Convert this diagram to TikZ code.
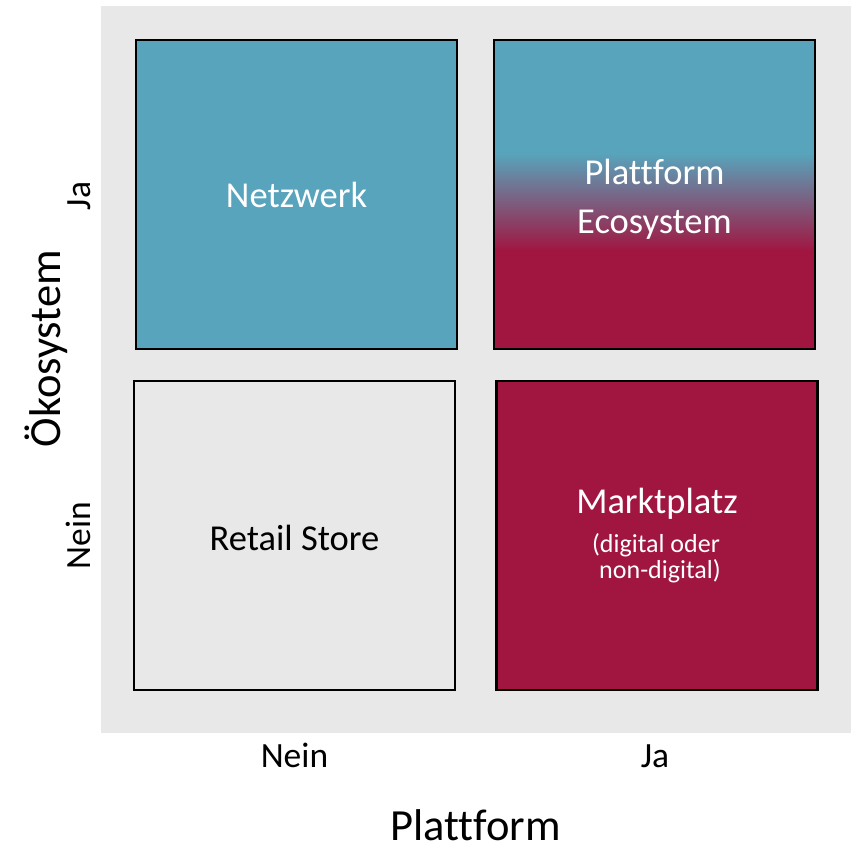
\documentclass[tikz,border=0pt]{standalone}
\usepackage{fontspec}
\setmainfont{Carlito}[RawFeature={-liga;-dlig;-clig}]
\definecolor{netblue}{HTML}{58A4BC}
\definecolor{crimson}{HTML}{A01641}
\definecolor{bggray}{HTML}{E8E8E8}
\begin{document}
\begin{tikzpicture}[x=1pt,y=-1pt,
  quad/.style={draw=black,line width=2.5pt,minimum width=321pt,minimum height=309pt,inner sep=0pt,outer sep=0pt},
  big/.style={font=\fontsize{36.5}{44}\selectfont,inner sep=0pt,anchor=base},
  small/.style={font=\fontsize{26}{30}\selectfont,inner sep=0pt,anchor=base,text=white},
  tick/.style={font=\fontsize{35.5}{42}\selectfont,inner sep=0pt,anchor=base},
  axis/.style={font=\fontsize{44.5}{52}\selectfont,inner sep=0pt,anchor=base}]
\useasboundingbox (0,0) rectangle (851,851);
\fill[bggray] (101,6) rectangle (851,733);
% quadrants
\node[quad,fill=netblue] (q1) at (296.5,194.5) {};
\fill[netblue] (494,40) rectangle (815,154);
\shade[top color=netblue,bottom color=crimson] (494,153) rectangle (815,251);
\fill[crimson] (494,250) rectangle (815,349);
\node[quad] (q2) at (654.5,194.5) {};
\node[quad,fill=bggray] (q3) at (294.5,535.5) {};
\node[quad,fill=crimson] (q4) at (657,535.5) {};
% labels
\node[big,text=white] (t1) at (296.5,207) {Netzwerk};
\node[big,text=white] (t2a) at (654.5,184) {Plattform};
\node[big,text=white] (t2b) at (654.5,233) {Ecosystem};
\node[big] (t3) at (294.5,550) {Retail Store};
\node[big,text=white] (t4) at (657,513) {Marktplatz};
\node[small] (t4b) at (656,552) {(digital oder};
\node[small] (t4c) at (660,578.5) {non-digital)};
% axes
\node[tick] (xn) at (294.5,767) {Nein};
\node[tick] (xj) at (655,767) {Ja};
\node[axis] (xt) at (475.5,840) {Plattform};
\node[tick,rotate=90] (yj) at (90,196) {Ja};
\node[tick,rotate=90] (yn) at (90,535.5) {Nein};
\node[axis,rotate=90] (yt) at (60,348.5) {Ökosystem};
\end{tikzpicture}
\end{document}
